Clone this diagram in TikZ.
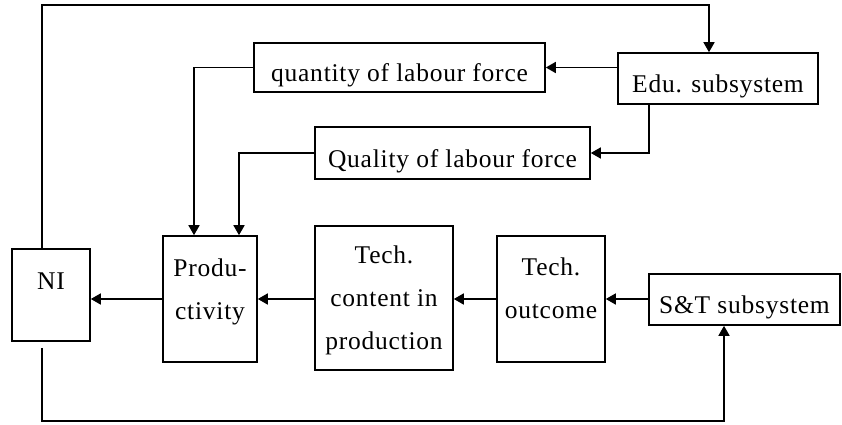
\documentclass[tikz,border=0pt]{standalone}
\usepackage{fontspec}
\setmainfont{Liberation Serif}[LetterSpace=3]
\usetikzlibrary{arrows.meta,scopes}

\begin{document}
\begin{tikzpicture}[
    x=1pt,y=-1pt,
    blk/.style={draw=black,line width=1.6pt,inner sep=0pt,align=center,
        font=\fontsize{25.5}{43}\selectfont},
    one/.style={text height=28pt,text depth=0pt},
    flow/.style={>={Triangle[length=10pt,width=11pt]},draw=black,line width=1.6pt},
]
    \useasboundingbox (0,0) rectangle (842,425);
    \node[blk,one,minimum width=200,minimum height=51] (edu) at (718,78.5) {Edu. subsystem};
    \node[blk,one,minimum width=291,minimum height=49] (qnt) at (399.5,67.5) {quantity of labour force};
    \node[blk,one,minimum width=275,minimum height=52] (qlt) at (452.5,153) {Quality of labour force};
    \node[blk,text height=0pt,text depth=12pt,minimum width=78,minimum height=92] (ni) at (51,295) {NI};
    \node[blk,text depth=19pt,minimum width=94,minimum height=126] (prod) at (210,299) {Produ-\\ctivity};
    \node[blk,text depth=0pt,minimum width=138,minimum height=144] (tech) at (384,298) {Tech.\\content in\\production};
    \node[blk,text depth=21pt,minimum width=108,minimum height=126] (outc) at (551,299) {Tech.\\outcome};
    \node[blk,one,minimum width=191,minimum height=51] (st) at (744.5,299.5) {S\&T subsystem};
    {[flow,->]
        \draw (edu.west |- qnt.east) -- (qnt.east);
        \draw ([xshift=-69pt]edu.south) |- (qlt.east);
        \draw (qnt.west) -| ([xshift=-16pt]prod.north);
        \draw (qlt.west) -| ([xshift=29pt]prod.north);
        \draw (prod.west) -- (prod.west -| ni.east);
        \draw (tech.west |- prod) -- (prod.east);
        \draw (outc.west) -- (outc.west -| tech.east);
        \draw (st.west |- outc) -- (outc.east);
        \draw ([xshift=-9pt]ni.north) -- ++(0,-243) -| ([xshift=-9pt]edu.north);
        \draw ([xshift=-9pt,yshift=-6pt]ni.south) -- ++(0,73) -| ([xshift=-20.5pt]st.south);
    }
\end{tikzpicture}
\end{document}
